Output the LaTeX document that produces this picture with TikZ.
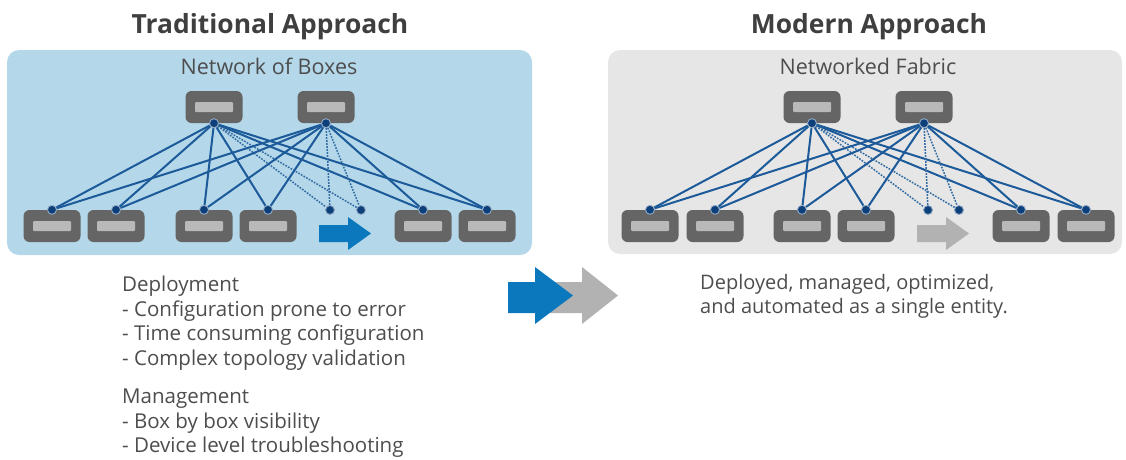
\documentclass[tikz,border=0pt]{standalone}
\usepackage{fontspec}
\setmainfont{Open Sans}
\usetikzlibrary{positioning}
\definecolor{panelblue}{HTML}{B4D8EA}
\definecolor{panelgray}{HTML}{E6E6E6}
\definecolor{boxgray}{HTML}{656565}
\definecolor{boxlight}{HTML}{B9B9B9}
\definecolor{linkblue}{HTML}{1C5A99}
\definecolor{portblue}{HTML}{0D3F7A}
\definecolor{arrowblue}{HTML}{0B77BD}
\definecolor{arrowgray}{HTML}{B2B2B2}
\definecolor{titlegray}{HTML}{3F3F3F}
\definecolor{textgray}{HTML}{4D4D4D}

\begin{document}
\begin{tikzpicture}[
  x=1pt, y=-1pt,
  panel/.style={rounded corners=12pt},
  switch/.style={fill=boxgray, rounded corners=6pt, minimum width=57pt,
                 minimum height=32pt, inner sep=0pt,
                 path picture={\fill[boxlight, rounded corners=1pt]
                   ([xshift=-19pt, yshift=-5pt]path picture bounding box.center)
                   rectangle ([xshift=19pt, yshift=5pt]path picture bounding box.center);}},
  port/.style={circle, fill=portblue, draw=white!55!portblue, line width=0.9pt,
               minimum size=9pt, inner sep=0pt},
  link/.style={draw=linkblue, line width=2pt},
  spare/.style={draw=linkblue!90, line width=1.5pt, dash pattern=on 1.7pt off 1.3pt},
  heading/.style={font=\bfseries\fontsize{26.4}{30}\selectfont, text=titlegray, anchor=base},
  caption/.style={font=\fontsize{21.5}{24}\selectfont, text=textgray, anchor=base},
  notes/.style={font=\fontsize{20.5}{24.5}\selectfont, text=textgray, align=left,
                inner sep=0pt, anchor=north west},
]
  \useasboundingbox (0,0) rectangle (1126,459);

  % Headings
  \node[heading] (trad) at (270,33) {Traditional Approach};
  \node[heading] (modern) at (869,33) {Modern Approach};

  % Panels
  \fill[panelblue, panel] (7,50) rectangle (532,255);
  \fill[panelgray, panel] (608,50) rectangle (1122,254);
  \node[caption] (boxes) at (269,74) {Network of Boxes};
  \node[caption] (fabric) at (868,74) {Networked Fabric};

  % Traditional --- switches
  \node[switch] (core1) at (214,107) {};
  \node[switch] (core2) at (326,107) {};
  \node[switch] (edge1) at (52,226) {};
  \node[switch] (edge2) at (116,226) {};
  \node[switch] (edge3) at (204,226) {};
  \node[switch] (edge4) at (268,226) {};
  \node[switch] (edge5) at (423,226) {};
  \node[switch] (edge6) at (487,226) {};
  \fill[arrowblue] (319,225) -- (348,225) -- (348,217) -- (371,233.5)
    -- (348,250) -- (348,242) -- (319,242) -- cycle;

  \node[port] (c1p) at (core1.south) {};
  \node[port] (c2p) at (core2.south) {};
  \node[port] (e1p) at (edge1.north) {};
  \node[port] (e2p) at (edge2.north) {};
  \node[port] (e3p) at (edge3.north) {};
  \node[port] (e4p) at (edge4.north) {};
  \node[port] (e5p) at (edge5.north) {};
  \node[port] (e6p) at (edge6.north) {};
  \node[port] (s1p) at (330,210) {};
  \node[port] (s2p) at (361,210) {};

  \foreach \c in {c1p,c2p} {
    \foreach \e in {e1p,e2p,e3p,e4p,e5p,e6p}
      \draw[link] (\c) -- (\e);
    \draw[spare] (\c) -- (s1p);
    \draw[spare] (\c) -- (s2p);
  }

  % Modern --- switches
  \node[switch] (fcore1) at (812,107) {};
  \node[switch] (fcore2) at (924,107) {};
  \node[switch] (fedge1) at (650,226) {};
  \node[switch] (fedge2) at (715,226) {};
  \node[switch] (fedge3) at (802,226) {};
  \node[switch] (fedge4) at (866,226) {};
  \node[switch] (fedge5) at (1021,226) {};
  \node[switch] (fedge6) at (1086,226) {};
  \fill[arrowgray] (917,225) -- (946,225) -- (946,217) -- (969,233.5)
    -- (946,250) -- (946,242) -- (917,242) -- cycle;

  \node[port] (fc1p) at (fcore1.south) {};
  \node[port] (fc2p) at (fcore2.south) {};
  \node[port] (fe1p) at (fedge1.north) {};
  \node[port] (fe2p) at (fedge2.north) {};
  \node[port] (fe3p) at (fedge3.north) {};
  \node[port] (fe4p) at (fedge4.north) {};
  \node[port] (fe5p) at (fedge5.north) {};
  \node[port] (fe6p) at (fedge6.north) {};
  \node[port] (fs1p) at (928,210) {};
  \node[port] (fs2p) at (959,210) {};

  \foreach \c in {fc1p,fc2p} {
    \foreach \e in {fe1p,fe2p,fe3p,fe4p,fe5p,fe6p}
      \draw[link] (\c) -- (\e);
    \draw[spare] (\c) -- (fs1p);
    \draw[spare] (\c) -- (fs2p);
  }

  % Transition arrow
  \fill[arrowgray] (550,282) -- (582,282) -- (582,267) -- (618,295.5)
    -- (582,324) -- (582,313) -- (550,313) -- cycle;
  \fill[arrowblue] (508,282) -- (535,282) -- (535,267) -- (573,295.5)
    -- (535,324) -- (535,313) -- (508,313) -- cycle;

  % Notes
  \node[notes] (deploy) at (122,276) {Deployment\\
    - Configuration prone to error\\
    - Time consuming configuration\\
    - Complex topology validation};
  \node[notes] (manage) at (122,389) {Management\\
    - Box by box visibility\\
    - Device level troubleshooting};
  \node[notes, font=\fontsize{20}{24}\selectfont] (entity) at (700,274)
    {Deployed, managed, optimized,\\
    and automated as a single entity.};
\end{tikzpicture}
\end{document}
